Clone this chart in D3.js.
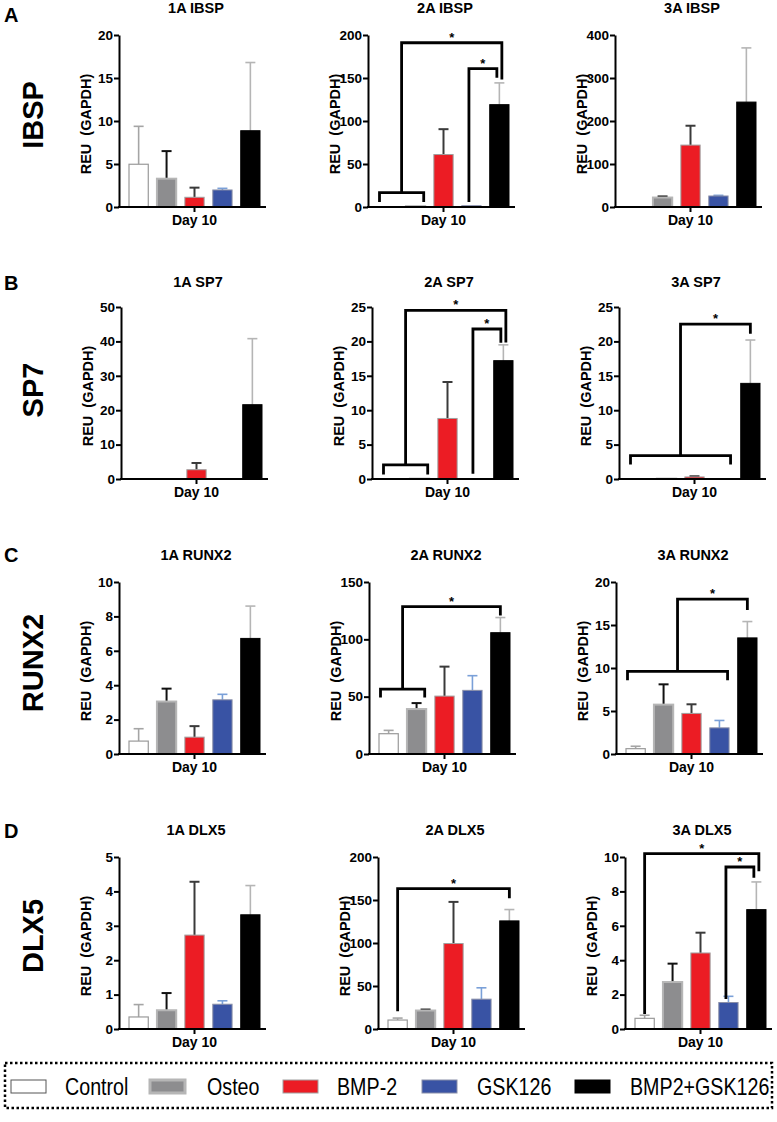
<!DOCTYPE html>
<html><head><meta charset="utf-8">
<script src="https://cdn.jsdelivr.net/npm/d3@7"></script>
<style>body{margin:0;background:#fff} svg{display:block}</style>
</head><body><svg id="c" width="777" height="1122"></svg>
<script>
// ---------------- DATA ----------------
const categories = ["Control","Osteo","BMP-2","GSK126","BMP2+GSK126"];
const genes = ["IBSP","SP7","RUNX2","DLX5"];
const rowLetters = ["A","B","C","D"];
const panelTitles = [["1A IBSP","2A IBSP","3A IBSP"],["1A SP7","2A SP7","3A SP7"],["1A RUNX2","2A RUNX2","3A RUNX2"],["1A DLX5","2A DLX5","3A DLX5"]];
const xLabel = "Day 10";
const yLabel = "REU  (GAPDH)";

const ibsp1Mean = [4.97, 3.29, 1.13, 1.98, 8.87];
const ibsp1Sd   = [4.41, 3.21, 1.12, 0.19, 7.93];
const ibsp2Mean = [0.4, 1.0, 61, 1.5, 119];
const ibsp2Sd   = [0, 0, 29.5, 0, 25.3];
const ibsp3Mean = [0, 22, 144, 25.6, 244];
const ibsp3Sd   = [0, 2.5, 45, 1.5, 126];

const sp71Mean = [0, 0, 2.7, 0, 21.6];
const sp71Sd   = [0, 0, 1.96, 0, 19.2];
const sp72Mean = [0.02, 0.05, 8.8, 0.03, 17.2];
const sp72Sd   = [0, 0, 5.3, 0, 2.3];
const sp73Mean = [0.02, 0.05, 0.3, 0.03, 13.9];
const sp73Sd   = [0, 0, 0.1, 0, 6.3];

const runx1Mean = [0.75, 3.05, 0.98, 3.15, 6.72];
const runx1Sd   = [0.72, 0.75, 0.64, 0.32, 1.88];
const runx2Mean = [17.7, 39.2, 50.5, 55.5, 105.8];
const runx2Sd   = [2.9, 5.2, 25.7, 12.8, 13.2];
const runx3Mean = [0.62, 5.74, 4.72, 3.04, 13.5];
const runx3Sd   = [0.28, 2.36, 1.06, 0.86, 1.9];

const dlx1Mean = [0.35, 0.545, 2.73, 0.72, 3.32];
const dlx1Sd   = [0.36, 0.5, 1.55, 0.1, 0.85];
const dlx2Mean = [10.4, 21.5, 99.4, 34.7, 125.7];
const dlx2Sd   = [2.3, 1.1, 48.4, 13.2, 13.2];
const dlx3Mean = [0.62, 2.73, 4.42, 1.54, 6.94];
const dlx3Sd   = [0.18, 1.07, 1.18, 0.36, 1.61];

const yMax  = [[20,200,400],[50,25,25],[10,150,20],[5,200,10]];
const yStep = [[5,50,100],[10,5,5],[2,50,5],[1,50,2]];

// significance brackets: from = category range, at/end = values, top = bracket top, to = target category, toEnd = drop value
const ibsp2Sig = [{from:[0,1], at:16.6, end:7.3, top:191, to:4, toEnd:150},
                  {from:[3,3], end:7.3, top:161, to:4, toEnd:152}];
const sp72Sig  = [{from:[0,1], at:2.04, end:0.87, top:24.5, to:4, toEnd:20.05},
                  {from:[3,3], end:0.97, top:21.8, to:4, toEnd:20}];
const sp73Sig  = [{from:[0,3], at:3.4, end:2.3, top:22.5, to:4, toEnd:21.3}];
const runx22Sig = [{from:[0,1], at:56.5, end:50.5, top:128.6, to:4, toEnd:121.9}];
const runx23Sig = [{from:[0,3], at:9.6, end:8.75, top:18.0, to:4, toEnd:16.9}];
const dlx52Sig = [{from:[0,0], end:22.3, top:163.2, to:4, toEnd:153.6}];
const dlx53Sig = [{from:[0,0], end:0.95, top:10.2, to:4, toEnd:9.26},
                  {from:[3,3], end:1.83, top:9.42, to:4, toEnd:8.88}];

const means = [[ibsp1Mean,ibsp2Mean,ibsp3Mean],[sp71Mean,sp72Mean,sp73Mean],[runx1Mean,runx2Mean,runx3Mean],[dlx1Mean,dlx2Mean,dlx3Mean]];
const sds   = [[ibsp1Sd,ibsp2Sd,ibsp3Sd],[sp71Sd,sp72Sd,sp73Sd],[runx1Sd,runx2Sd,runx3Sd],[dlx1Sd,dlx2Sd,dlx3Sd]];
const sigs  = [[[],ibsp2Sig,[]],[[],sp72Sig,sp73Sig],[[],runx22Sig,runx23Sig],[[],dlx52Sig,dlx53Sig]];

// ---------------- STYLE / LAYOUT ----------------
const FONT = "'Liberation Sans', Arial, Helvetica, sans-serif";
const fills   = ["#ffffff","#8d8d8f","#ec1c24","#3953a4","#000000"];
const strokes = ["#9a9a9a","#b6b6b6","#a0a0a0","#8a8fa8","#000000"];
const strokeW = [1.2, 2, 1, 1, 1];
const errCol  = ["#a5a5a5","#111111","#3a3a3a","#7aa0d8","#b5b5b5"];
const rowTop = [35, 307, 582, 857];
const plotH = 172;
const axisX = [[119,368,615],[121,372,619],[119,369,616],[119,378,625]];
const titleY = [13, 287, 560, 835];
const letterY = [22, 290, 562, 838];
const geneY = [115, 390, 663, 936];

const svg = d3.select("#c");

for (let r = 0; r < 4; r++) {
  svg.append("text").attr("x", 4).attr("y", letterY[r]).text(rowLetters[r])
    .attr("font-family", FONT).attr("font-weight", "bold").attr("font-size", 20);
  svg.append("text").attr("transform", `translate(43,${geneY[r]}) rotate(-90)`)
    .attr("text-anchor", "middle").text(genes[r])
    .attr("font-family", FONT).attr("font-weight", "bold").attr("font-size", 29);

  for (let c = 0; c < 3; c++) {
    const ax = axisX[r][c];
    const g = svg.append("g");
    const y = d3.scaleLinear().domain([0, yMax[r][c]]).range([rowTop[r] + plotH, rowTop[r]]);
    const x = d3.scaleBand().domain(categories).range([ax + 10, ax + 141]).paddingInner(0.31).paddingOuter(0);
    const bw = x.bandwidth();
    const y0 = y(0);

    // title
    g.append("text").attr("x", ax + 77).attr("y", titleY[r]).attr("text-anchor", "middle")
      .text(panelTitles[r][c]).attr("font-family", FONT).attr("font-weight", "bold").attr("font-size", 14.5);

    // y label
    g.append("text").attr("transform", `translate(${ax - 28},${rowTop[r] + plotH / 2 + 3}) rotate(-90)`)
      .attr("text-anchor", "middle").text(yLabel).style("white-space","pre")
      .attr("font-family", FONT).attr("font-weight", "bold").attr("font-size", 14.5);

    const mean = means[r][c], sd = sds[r][c];
    const data = categories.map((k, i) => ({k, i, m: mean[i], s: sd[i]}));

    // error bars (drawn behind bars)
    const eg = g.append("g");
    data.filter(d => d.s > 0).forEach(d => {
      const cx = x(d.k) + bw / 2;
      const w = (d.i === 1 || d.i === 2) ? 2 : 1.6;
      eg.append("line").attr("x1", cx).attr("x2", cx).attr("y1", y(d.m)).attr("y2", y(d.m + d.s))
        .attr("stroke", errCol[d.i]).attr("stroke-width", w);
      eg.append("line").attr("x1", cx - 5).attr("x2", cx + 5).attr("y1", y(d.m + d.s)).attr("y2", y(d.m + d.s))
        .attr("stroke", errCol[d.i]).attr("stroke-width", w);
    });

    // bars
    g.append("g").selectAll("rect").data(data.filter(d => d.m > 0)).join("rect")
      .attr("x", d => x(d.k)).attr("width", bw)
      .attr("y", d => y(d.m)).attr("height", d => Math.max(0, y0 - y(d.m)))
      .attr("fill", d => fills[d.i]).attr("stroke", d => strokes[d.i]).attr("stroke-width", d => strokeW[d.i]);

    // y axis
    const ticks = d3.range(0, yMax[r][c] + yStep[r][c] / 2, yStep[r][c]);
    const ya = g.append("g").attr("transform", `translate(${ax},0)`)
      .call(d3.axisLeft(y).tickValues(ticks).tickFormat(d3.format("d")).tickSize(5).tickSizeOuter(0).tickPadding(1));
    ya.select(".domain").attr("stroke-width", 2).attr("stroke", "#000");
    ya.selectAll(".tick line").attr("stroke-width", 2);
    ya.selectAll(".tick text").attr("font-family", FONT).attr("font-weight", "bold")
      .attr("font-size", 13.5).attr("fill", "#000");

    // x axis (single group "Day 10" centred on the middle bar)
    const xg = d3.scaleBand().domain([xLabel]).range([ax + 10 - (x.step() - bw) / 2, ax + 10 + 4 * x.step() + bw + (x.step() - bw) / 2]);
    const xa = g.append("g").attr("transform", `translate(0,${y0})`)
      .call(d3.axisBottom(xg).tickSize(5).tickSizeOuter(0).tickPadding(-1));
    xa.select(".domain").remove();
    xa.selectAll(".tick line").attr("stroke-width", 2);
    xa.selectAll(".tick text").attr("font-family", FONT).attr("font-weight", "bold").attr("font-size", 14).attr("fill", "#000")
      .attr("dy", "1.0em");
    g.append("line").attr("x1", ax - 1).attr("x2", ax + 147).attr("y1", y0).attr("y2", y0)
      .attr("stroke", "#000").attr("stroke-width", 2);

    // significance brackets
    const S = sigs[r][c];
    S.forEach((s, idx) => {
      const dxTo = S.length > 1 ? (idx === 0 ? 2.5 : -2.5) : 0;
      const xt = x(categories[s.to]) + bw / 2 + dxTo;
      let xs;
      const p = d3.path();
      if (s.from[0] !== s.from[1]) {
        const xl = x(categories[s.from[0]]) + 1.5, xr = x(categories[s.from[1]]) + bw - 1.5;
        p.moveTo(xl, y(s.end)); p.lineTo(xl, y(s.at)); p.lineTo(xr, y(s.at)); p.lineTo(xr, y(s.end));
        xs = (xl + xr) / 2;
        p.moveTo(xs, y(s.at));
      } else {
        xs = x(categories[s.from[0]]) + bw / 2 + (s.from[0] === 0 ? 0 : -2.5);
        p.moveTo(xs, y(s.end));
      }
      p.lineTo(xs, y(s.top)); p.lineTo(xt, y(s.top)); p.lineTo(xt, y(s.toEnd));
      g.append("path").attr("d", p.toString()).attr("fill", "none").attr("stroke", "#000")
        .attr("stroke-width", 2.8).attr("stroke-linejoin", "miter").attr("stroke-linecap", "square");
      g.append("text").attr("x", (xs + xt) / 2).attr("y", y(s.top) - 1).attr("text-anchor", "middle")
        .text("*").attr("font-family", FONT).attr("font-weight", "bold").attr("font-size", 13);
    });
  }
}

// ---------------- LEGEND ----------------
const lg = svg.append("g");
lg.append("rect").attr("x", 5).attr("y", 1063).attr("width", 767).attr("height", 45)
  .attr("fill", "none").attr("stroke", "#000").attr("stroke-width", 2.5).attr("stroke-dasharray", "2.5 2.5");
const legSwX = [11, 150, 283, 422, 575];
const legTxX = [65, 207, 337, 477, 630];
categories.forEach((k, i) => {
  lg.append("rect").attr("x", legSwX[i]).attr("y", 1080).attr("width", 35).attr("height", 13)
    .attr("fill", fills[i]).attr("stroke", i === 0 ? "#555" : strokes[i]).attr("stroke-width", i === 1 ? 3 : 1);
  lg.append("text").attr("transform", `translate(${legTxX[i]},1095) scale(0.82,1)`).text(k)
    .attr("font-family", FONT).attr("font-size", 24).attr("fill", "#000");
});
</script></body></html>
